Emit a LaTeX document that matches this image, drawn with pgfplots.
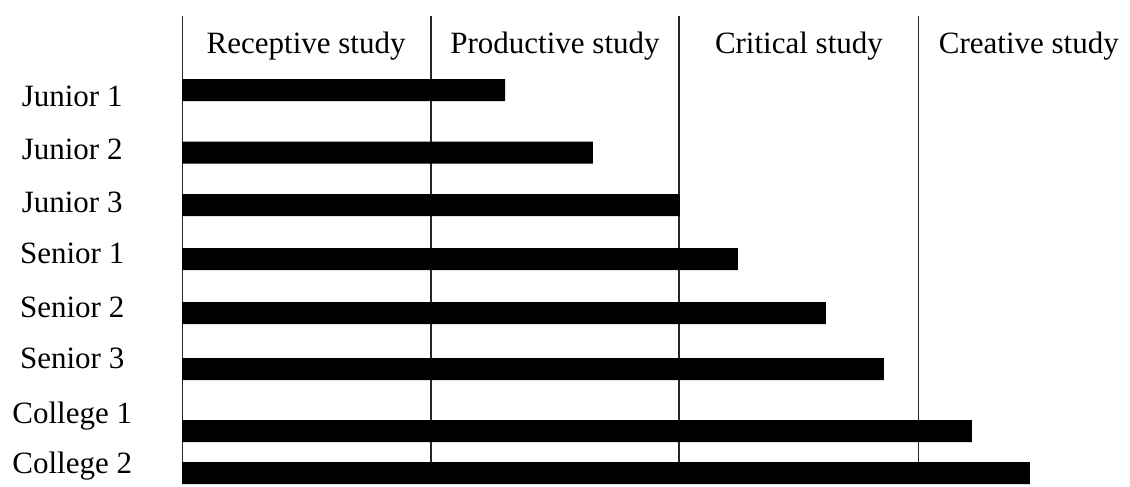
\documentclass[border=0pt]{standalone}
\usepackage{fontspec}
\setmainfont{Liberation Serif}
\usepackage{pgfplots}
\pgfplotsset{compat=1.18}

% x and y in reference pixels, x measured from the left end of the bars
\begin{document}
\begin{tikzpicture}
\begin{axis}[
  scale only axis,
  width=565pt, height=242pt,
  xmin=-182, xmax=948,
  ymin=0, ymax=484,
  y dir=reverse,
  clip=false,
  axis line style={draw=none},
  major tick length=0pt,
  tick label style={font=\fontsize{15.5}{18}\selectfont},
  xtick={124,373,617,847},
  xticklabels={Receptive study,Productive study,Critical study,Creative study},
  xticklabel pos=upper,
  xticklabel style={anchor=base, yshift=-26.5pt},
  ytick={106,159,212,263,317,368,423,473},
  yticklabels={Junior 1,Junior 2,Junior 3,Senior 1,Senior 2,Senior 3,College 1,College 2},
  yticklabel style={anchor=base, xshift=36pt},
]
% stage boundaries
\addplot[black!85, line width=0.6pt] coordinates {(0,16) (0,484)};
\addplot[black!85, line width=0.6pt] coordinates {(249,16) (249,484)};
\addplot[black!85, line width=0.6pt] coordinates {(497,16) (497,484)};
\addplot[black!85, line width=0.6pt] coordinates {(737,16) (737,484)};
% levels
\addplot[xbar, fill=black, draw=none, bar width=11pt] coordinates {
  (323,90)
  (411,152.5)
  (498,205)
  (556,259)
  (644,313)
  (702,369)
  (790,431)
  (848,473)
};
\end{axis}
\end{tikzpicture}
\end{document}
